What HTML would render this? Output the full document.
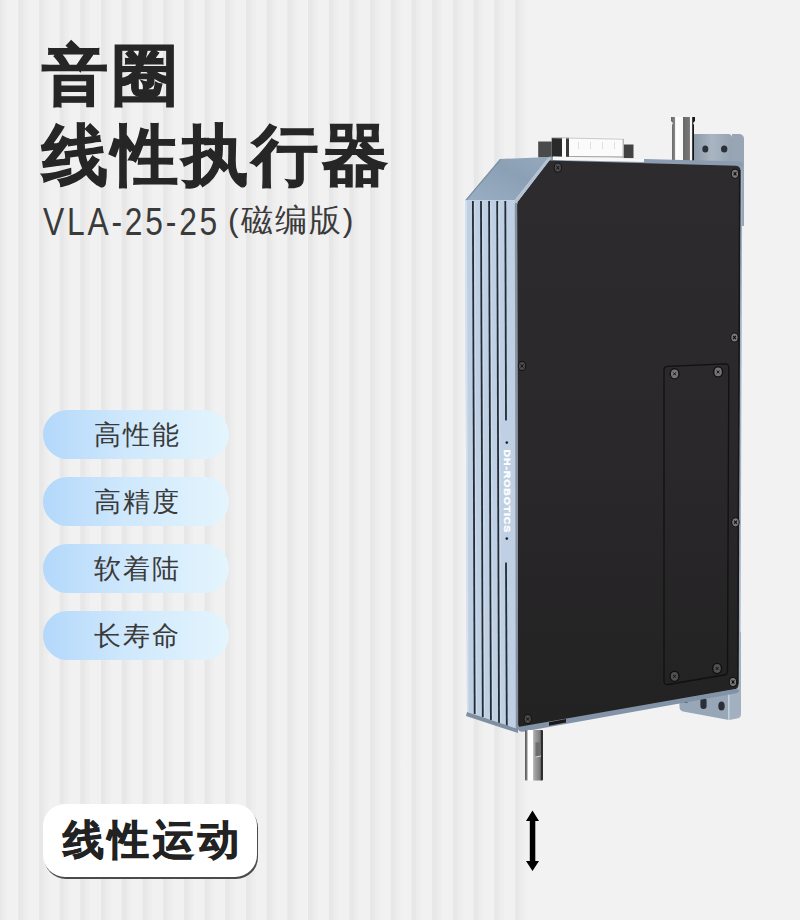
<!DOCTYPE html>
<html><head><meta charset="utf-8">
<style>
html,body{margin:0;padding:0;}
body{width:800px;height:920px;position:relative;overflow:hidden;background:#f2f2f2;font-family:"Liberation Sans",sans-serif;}
.stripes{position:absolute;left:-2.7px;top:0;width:530px;height:920px;
 background:repeating-linear-gradient(90deg,#f3f3f3 0px,#e7e7e7 0.9px,#e8e8e8 4.5px,#ececec 6px,#eeeeee 9px,#f1f1f1 11px,#f1f1f1 20px,#f2f2f2 20.7px);}
.t{position:absolute;white-space:nowrap;color:#262626;}
.h1{font-size:66px;font-weight:bold;line-height:1;letter-spacing:4px;-webkit-text-stroke:1.2px #262626;}
.sub{font-size:32px;line-height:1;color:#3a3a3a;}
.pill{position:absolute;left:43px;width:186px;height:49px;border-radius:25px;
 background:linear-gradient(90deg,#b3d8fb 0%,#cfe8fc 45%,#e4f5fd 100%);}
.pill span{position:absolute;left:2px;right:0;top:0;text-align:center;font-size:27px;line-height:50px;color:#3a3a3a;letter-spacing:2px;}
.badge{position:absolute;left:43px;top:804px;width:214px;height:73px;border-radius:22px;background:#fff;
 box-shadow:1px 2px 0 #4a4a4a;}
.badge span{position:absolute;left:5px;right:0;top:0;text-align:center;font-size:41px;font-weight:bold;line-height:73px;color:#222;letter-spacing:4px;-webkit-text-stroke:0.9px #222;}
svg{position:absolute;left:0;top:0;}
</style></head><body>
<div class="stripes"></div>
<div class="t h1" style="left:42px;top:42px;">音圈</div>
<div class="t h1" style="left:42px;top:122px;">线性执行器</div>
<div class="t sub" style="left:42.5px;top:202.5px;font-size:38px;letter-spacing:3.35px;transform:scaleX(0.836);transform-origin:0 0;">VLA-25-25</div>
<div class="t sub" style="left:228px;top:204px;letter-spacing:2px;">(磁编版)</div>

<div class="pill" style="top:410px"><span>高性能</span></div>
<div class="pill" style="top:477px"><span>高精度</span></div>
<div class="pill" style="top:544px"><span>软着陆</span></div>
<div class="pill" style="top:611px"><span>长寿命</span></div>

<div class="badge"><span>线性运动</span></div>

<svg width="800" height="920" viewBox="0 0 800 920">
 <defs>
  <linearGradient id="gPanel" x1="0" y1="0" x2="0" y2="1">
   <stop offset="0" stop-color="#2d2b2d"/><stop offset="0.5" stop-color="#2a282a"/><stop offset="1" stop-color="#232223"/>
  </linearGradient>
  <linearGradient id="gTop" x1="0" y1="1" x2="1" y2="0">
   <stop offset="0" stop-color="#9aaec4"/><stop offset="0.6" stop-color="#8ca0b5"/><stop offset="1" stop-color="#95a8bc"/>
  </linearGradient>
  <linearGradient id="gBrk" x1="0" y1="0" x2="1" y2="0">
   <stop offset="0" stop-color="#8a97a6"/><stop offset="0.5" stop-color="#a9b5c2"/><stop offset="1" stop-color="#95a2b1"/>
  </linearGradient>
  <linearGradient id="gCyl" x1="0" y1="0" x2="1" y2="0">
   <stop offset="0" stop-color="#626262"/><stop offset="0.1" stop-color="#7a7a7a"/><stop offset="0.17" stop-color="#8a8a8a"/><stop offset="0.19" stop-color="#ffffff"/>
   <stop offset="0.5" stop-color="#f8f8f8"/><stop offset="0.52" stop-color="#6a6a6a"/><stop offset="0.77" stop-color="#777"/>
   <stop offset="0.79" stop-color="#ffffff"/><stop offset="0.88" stop-color="#f0f0f0"/><stop offset="0.9" stop-color="#151515"/><stop offset="1" stop-color="#1a1a1a"/>
  </linearGradient>
  <linearGradient id="gRod" x1="0" y1="0" x2="1" y2="0">
   <stop offset="0" stop-color="#555"/><stop offset="0.12" stop-color="#8a8a8a"/><stop offset="0.16" stop-color="#ffffff"/>
   <stop offset="0.42" stop-color="#ffffff"/><stop offset="0.48" stop-color="#b0b0b0"/><stop offset="0.6" stop-color="#9a9a9a"/>
   <stop offset="0.85" stop-color="#7a7a7a"/><stop offset="0.9" stop-color="#2a2a2a"/><stop offset="1" stop-color="#333"/>
  </linearGradient>
 </defs>

 <!-- bracket top (behind) -->
 <path d="M732 134 L740 134 Q744 135 744 139 L744 226 L732 226 Z" fill="#98a5b4"/>
 <path d="M692 136 Q692 134 695 134 L728 134 Q732 134 732 138 L732 163 L692 163 Z" fill="url(#gBrk)"/>
 <ellipse cx="705.3" cy="149" rx="3" ry="3.6" fill="#2b3038"/>
 <ellipse cx="724.2" cy="149" rx="3.2" ry="3.6" fill="#2b3038"/>

 <!-- bracket bottom (behind) -->
 <path d="M729 630 L741 632 L741 714 Q741 718 737 718.5 L729 720 Z" fill="#a3b0bf"/>
 <path d="M679 690 L729 690 L729 720 L683 711.5 Q679.5 710.5 679.5 707 Z" fill="#97a7b8"/>
 <path d="M728 692 L729.5 692 L729.5 720 L728 720 Z" fill="#c5d0dc"/>
 <rect x="700.4" y="698" width="6.2" height="11" rx="3" fill="#2b3038"/>
 <ellipse cx="721.5" cy="706" rx="3.2" ry="4.5" fill="#2b3038"/>
 <ellipse cx="686" cy="701.5" rx="2" ry="1.3" fill="#2b3038"/>

 <!-- cylinder connector -->
 <path d="M671 117 L695 117 L695 121 L693 123 L694 125 L694 161 L672 161 L672 125 L673 123 L671 121 Z" fill="url(#gCyl)"/>

 <!-- DB connector -->
 <rect x="538.2" y="141.5" width="14.5" height="16" fill="#4a4a4a"/>
 <rect x="623.5" y="144.5" width="10" height="14" fill="#424242"/>
 <rect x="551.7" y="137.7" width="72" height="19.5" fill="#fbfbfb"/>
 <rect x="551.7" y="137.7" width="12" height="19.5" fill="#2a2a2a"/>
 <rect x="562" y="137.7" width="2.2" height="19.5" fill="#fafafa"/>
 <rect x="566" y="137.7" width="3" height="19.5" fill="#3a3a3a"/>
 <path d="M552 137.7 L623.7 139.2" stroke="#c8c8c8" stroke-width="1"/>
 <path d="M623.2 139.2 L623.2 157" stroke="#9a9a9a" stroke-width="1"/>
 <path d="M569 156.6 L623 157" stroke="#7a7a7a" stroke-width="0.8"/>
 <g fill="#dcdcdc"><rect x="578" y="142" width="0.9" height="7"/><rect x="590" y="142" width="0.9" height="7"/><rect x="602" y="142" width="0.9" height="7"/><rect x="614" y="142" width="0.9" height="7"/></g>

 <!-- top rim of casing -->
 <path d="M549 156.5 L740 161.5 Q744 162.5 743 166.5 L549 162 Z" fill="#8c9db1"/>
 <path d="M553 156.5 L644 158.5 L644 162 L553 160 Z" fill="#f7f7f7"/>

 <!-- main dark panel -->
 <path d="M517 202.5 L549 160.5 L736 165.8 Q740.5 166.3 740.5 170.5 L738.5 684 Q738.5 688.5 734.5 689.5 L523 728 Q518 729 518 724 Z" fill="url(#gPanel)"/>

 <path d="M740.5 170 L742.3 170 L740.3 684 L738.5 684 Z" fill="#9fb2c7"/>
 <path d="M739 170 L740.6 170 L738.6 684 L737 684 Z" fill="#191616"/>
 <!-- bottom rim -->
 <path d="M518 727 L735 689 Q739.5 688.5 739.2 691.5 L736.5 693.3 L524 731.5 Q519 732.5 518 729 Z" fill="#8293a7"/>

 <path d="M549 722.2 L566 719.1 L566 722.6 L549 725.7 Z" fill="#1a191a"/>
 <!-- top chamfer face -->
 <path d="M465 200.5 L500 159 L549 157 L514.5 200.5 Z" fill="url(#gTop)"/>
 <path d="M514.5 200.5 L549 157 L551.5 158 L517.5 202 L517.5 204 L515 204 Z" fill="#b3c2d2"/>
 <path d="M465 200.5 L500 159 L501.5 159 L466.5 200.5 Z" fill="#7b8ea3"/>
 <path d="M465 200.5 L514.5 200.5 L514.5 201.5 L465 201.5 Z" fill="#d2deea"/>

 <!-- fins face -->
 <path d="M465 200.5 L515 200.5 L518 729 L467 712 Z" fill="#bfd0e4"/>
 <path d="M465 200.5 L467 712 L468.5 712.5 L466.8 200.5 Z" fill="#d6e1ed"/>
 <path d="M514.8 203 L517.2 203 L518.2 729 L515.8 729 Z" fill="#8792a0"/>
 <g fill="#232b34">
  <path d="M472 201 L473.8 201 L475.6 714 L473.8 714 Z"/>
  <path d="M480.1 201 L481.9 201 L483.7 717 L481.9 717 Z"/>
  <path d="M488.2 201 L490 201 L491.8 720 L490 720 Z"/>
  <path d="M496.3 201 L498.1 201 L499.9 723 L498.1 723 Z"/>
  <path d="M504.4 201 L506.2 201 L506.9 420 Q506 421.5 505.1 420 Z"/>
  <path d="M505.1 563 Q506 561.5 506.9 563 L507.7 726 L505.9 726 Z"/>
 </g>
 <g fill="#d3dfec" opacity="0.8">
  <path d="M474.2 202 L475.2 202 L477 714 L476 714 Z"/>
  <path d="M482.3 202 L483.3 202 L485.1 717 L484.1 717 Z"/>
  <path d="M490.4 203 L491.4 203 L493.2 720 L492.2 720 Z"/>
  <path d="M498.5 203 L499.5 203 L501.3 723 L500.3 723 Z"/>
 </g>
 <!-- fin bottom bevel -->
 <path d="M467 712 L518 729 L518 733 L466 716 Z" fill="#7e8fa2"/>

 <!-- inset panel -->
 <path d="M668 366.3 L725 363.8 Q728.8 363.8 728.8 367.5 L727.5 671 Q727.5 674.5 724 675 L668 684.5 Q664 685 664 681 L664 370 Q664 366.5 668 366.3 Z" fill="none" stroke="#111" stroke-width="1.3"/>

 <!-- screws -->
 <g transform="translate(557.8 167.7)"><ellipse rx="4.1" ry="5" fill="#121112"/> <ellipse rx="3.2" ry="4.1" fill="#4b4a4c"/> <path d="M-1.4 -1.6 L1.4 1.6 M-1.4 1.6 L1.4 -1.6" stroke="#121212" stroke-width="1"/></g>
 <g transform="translate(735 173.8)"><ellipse rx="4.1" ry="5" fill="#121112"/> <ellipse rx="3.2" ry="4.1" fill="#7a797b"/> <path d="M-1.4 -1.6 L1.4 1.6 M-1.4 1.6 L1.4 -1.6" stroke="#0e0e0e" stroke-width="1.1"/></g>
 <g transform="translate(522 366)"><ellipse rx="4.1" ry="5" fill="#121112"/> <ellipse rx="3.2" ry="4.1" fill="#4b4a4c"/> <path d="M-1.4 -1.6 L1.4 1.6 M-1.4 1.6 L1.4 -1.6" stroke="#121212" stroke-width="1"/></g>
 <g transform="translate(734.5 337.5)"><ellipse rx="4.1" ry="5" fill="#121112"/> <ellipse rx="3.2" ry="4.1" fill="#7a797b"/> <path d="M-1.4 -1.6 L1.4 1.6 M-1.4 1.6 L1.4 -1.6" stroke="#0e0e0e" stroke-width="1.1"/></g>
 <g transform="translate(735.5 522.3)"><ellipse rx="4.1" ry="5" fill="#121112"/> <ellipse rx="3.2" ry="4.1" fill="#7a797b"/> <path d="M-1.4 -1.6 L1.4 1.6 M-1.4 1.6 L1.4 -1.6" stroke="#0e0e0e" stroke-width="1.1"/></g>
 <g transform="translate(527.7 719)"><ellipse rx="4.1" ry="5" fill="#121112"/> <ellipse rx="3.2" ry="4.1" fill="#4b4a4c"/> <path d="M-1.4 -1.6 L1.4 1.6 M-1.4 1.6 L1.4 -1.6" stroke="#121212" stroke-width="1"/></g>
 <g transform="translate(733 682)"><ellipse rx="4.1" ry="5" fill="#121112"/> <ellipse rx="3.2" ry="4.1" fill="#7a797b"/> <path d="M-1.4 -1.6 L1.4 1.6 M-1.4 1.6 L1.4 -1.6" stroke="#0e0e0e" stroke-width="1.1"/></g>
 <g transform="translate(674.6 373.8)"><ellipse rx="5.1" ry="5.7" fill="#121112"/> <ellipse rx="3.7" ry="4.4" fill="#747375"/> <path d="M-1.3 -1.4 L1.3 1.4 M-1.3 1.4 L1.3 -1.4" stroke="#101010" stroke-width="1"/></g>
 <g transform="translate(718.1 371.9)"><ellipse rx="5.1" ry="5.7" fill="#121112"/> <ellipse rx="3.7" ry="4.4" fill="#747375"/> <path d="M-1.3 -1.4 L1.3 1.4 M-1.3 1.4 L1.3 -1.4" stroke="#101010" stroke-width="1"/></g>
 <g transform="translate(674.5 676.3)"><ellipse rx="5.1" ry="5.7" fill="#111011"/> <ellipse rx="3.7" ry="4.4" fill="#505051"/> <path d="M-1.3 -1.4 L1.3 1.4 M-1.3 1.4 L1.3 -1.4" stroke="#0e0e0e" stroke-width="1"/></g>
 <g transform="translate(717.1 668.5)"><ellipse rx="5.1" ry="5.7" fill="#111011"/> <ellipse rx="3.7" ry="4.4" fill="#505051"/> <path d="M-1.3 -1.4 L1.3 1.4 M-1.3 1.4 L1.3 -1.4" stroke="#0e0e0e" stroke-width="1"/></g>

 <!-- logo -->
 <circle cx="506.8" cy="442.6" r="1.3" fill="#1e2328"/>
 <circle cx="506.8" cy="538.6" r="1.3" fill="#1e2328"/>
 <text x="0" y="0" transform="translate(504.2 449.6) rotate(90) scale(1.12 1)" font-family="Liberation Sans" font-weight="bold" font-size="9.4" letter-spacing="0.75" fill="#ffffff" stroke="#ffffff" stroke-width="0.35">DH-ROBOTICS</text>

 <!-- rod -->
 <rect x="525" y="730" width="18" height="50.6" rx="1" fill="url(#gRod)"/>
 <rect x="535.5" y="742.3" width="5.5" height="14.7" fill="#6e6e6e"/>
 <path d="M535.5 757 L541 756" stroke="#eee" stroke-width="0.8"/>

 <!-- arrow -->
 <path d="M532.5 810.5 L539 821 L535.3 821 L535.3 861 L539 861 L532.5 871 L526 861 L529.8 861 L529.8 821 L526 821 Z" fill="#000"/>
</svg>
</body></html>
